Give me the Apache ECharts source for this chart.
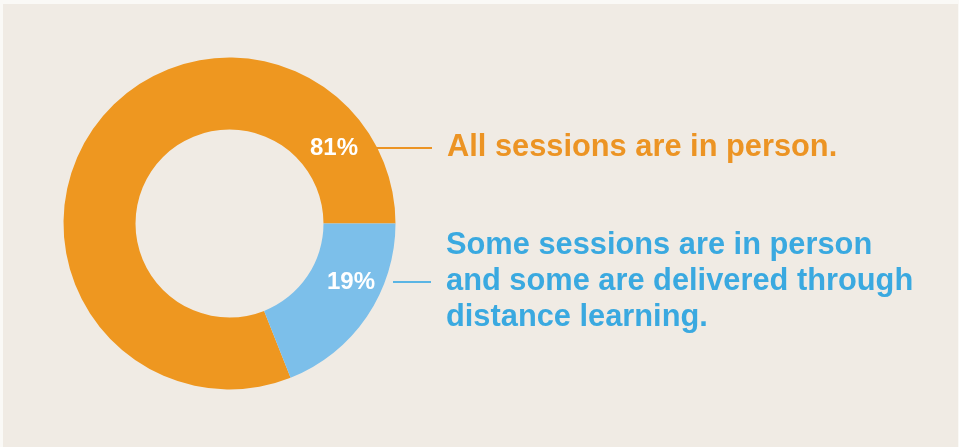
<!DOCTYPE html>
<html>
<head>
<meta charset="utf-8">
<script src="https://cdn.jsdelivr.net/npm/echarts@6/dist/echarts.min.js"></script>
<style>
  html, body { margin: 0; padding: 0; background: #FAF9F6; }
  #chart { position: absolute; left: 3px; top: 4px; width: 955px; height: 443px; }
</style>
</head>
<body>
<div id="chart"></div>
<script>
// ---- data ----
const categories = [
  'All sessions are in person.',
  'Some sessions are in person\nand some are delivered through\ndistance learning.'
];
const values = [81, 19];
const percentLabels = ['81%', '19%'];

// ---- styles ----
const sliceColors = ['#EE9720', '#7CBFEA'];
const textColors = ['#EC9424', '#3AA9E0'];
const lineColors = ['#EC9424', '#5AB5E4'];
const lineWidths = [56, 38];
const labelAnchors = [[307, 144], [324, 278]]; // chart px, left/middle of each annotation
const txtFont = "'Liberation Sans', Arial, sans-serif";

const total = values.reduce((a, b) => a + b, 0);
// second slice begins at 3 o'clock, running clockwise
const startAngle = 360 * values[0] / total;

const rich = {
  ind: { width: 66 + lineWidths[1], height: 36 }
};
categories.forEach((c, i) => {
  rich['p' + i] = { color: '#ffffff', fontSize: 24, fontWeight: 'bold', fontFamily: txtFont, width: 66, align: 'left', lineHeight: 36 };
  rich['ln' + i] = { width: lineWidths[i], height: 2, backgroundColor: lineColors[i] };
  rich['t' + i] = { color: textColors[i], fontSize: 30.8, fontWeight: 'bold', fontFamily: txtFont, lineHeight: 36, padding: [0, 0, 0, 15] };
});

const chart = echarts.init(document.getElementById('chart'));
chart.setOption({
  backgroundColor: '#F0EBE4',
  animation: false,
  series: [{
    type: 'pie',
    center: [226.5, 219.5],
    radius: [94, 166],
    startAngle: startAngle,
    clockwise: true,
    silent: true,
    data: values.map((v, i) => ({
      name: categories[i],
      value: v,
      itemStyle: { color: sliceColors[i] }
    })),
    label: {
      show: true,
      position: 'inside',
      formatter: function (p) {
        const i = p.dataIndex;
        const lines = categories[i].split('\n');
        const mid = Math.floor(lines.length / 2);
        return lines.map((ln, k) => {
          if (k === mid) {
            return '{p' + i + '|' + percentLabels[i] + '}{ln' + i + '|}{t' + i + '|' + ln + '}';
          }
          return '{ind|}{t' + i + '|' + ln + '}';
        }).join('\n');
      },
      rich: rich
    },
    labelLine: { show: false },
    labelLayout: function (params) {
      const a = labelAnchors[params.dataIndex];
      return { x: a[0], y: a[1], align: 'left', verticalAlign: 'middle' };
    }
  }]
});
</script>
</body>
</html>
